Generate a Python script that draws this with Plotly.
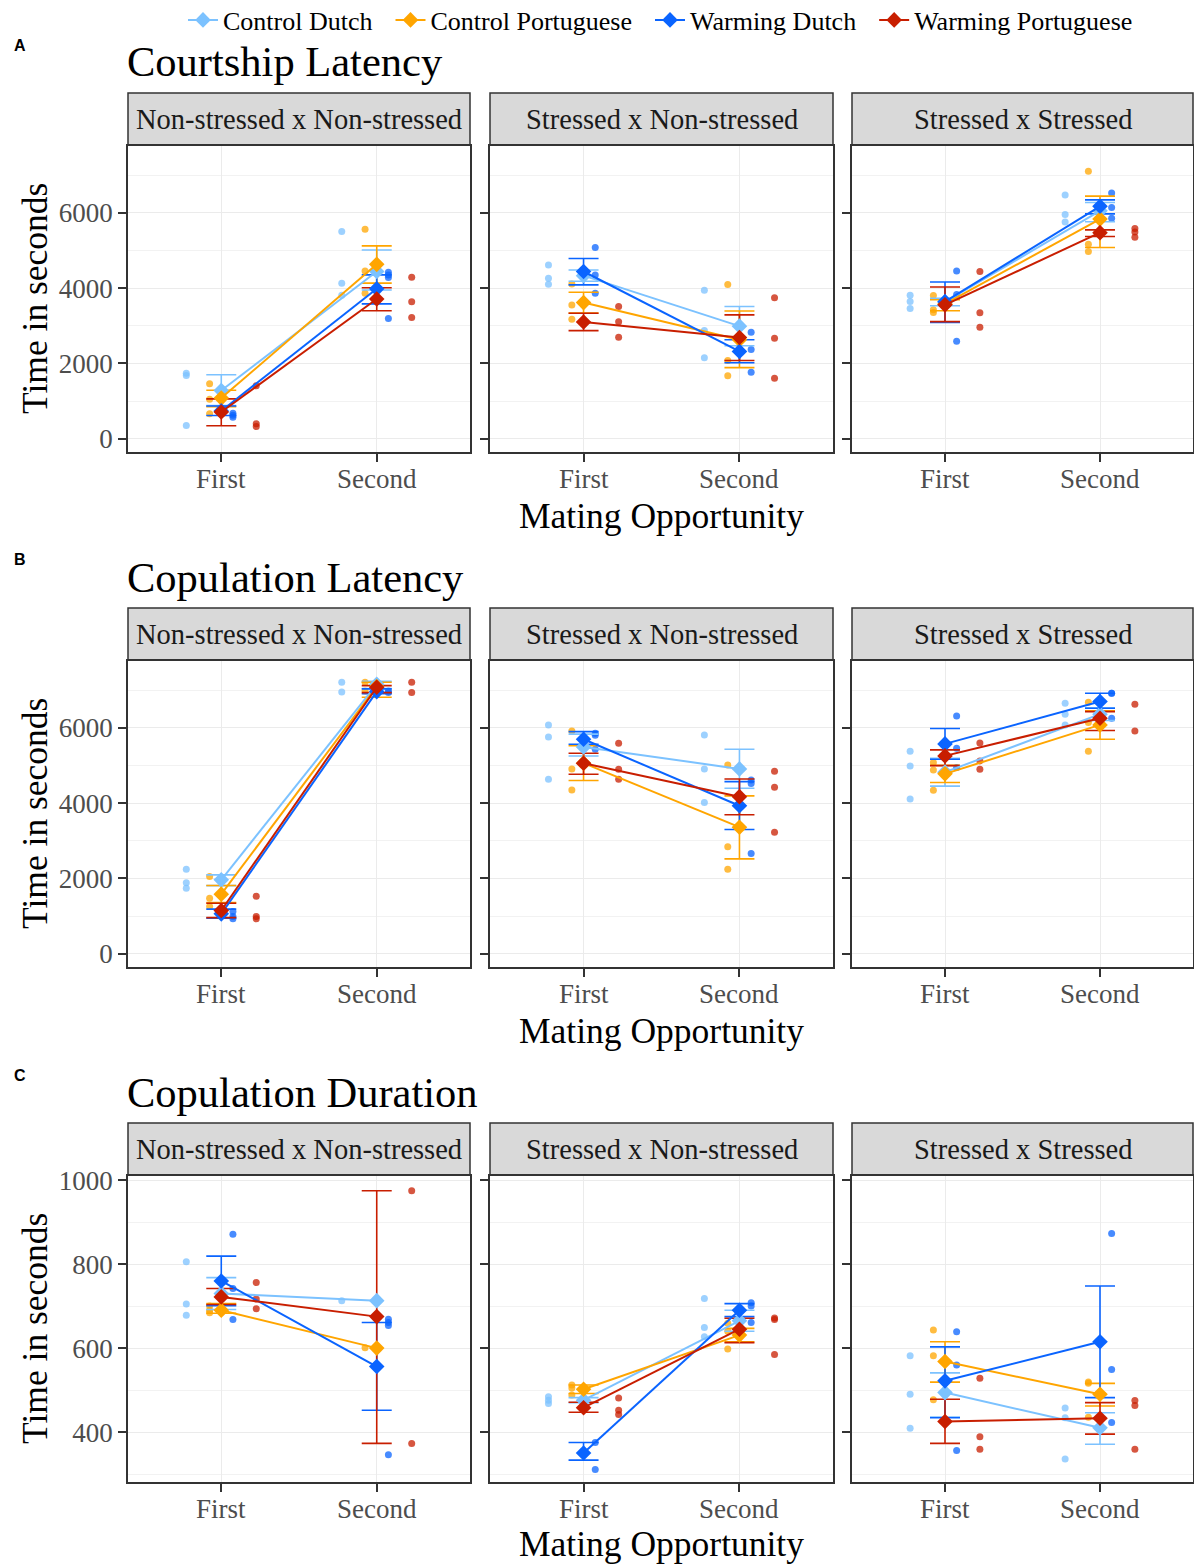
import plotly.graph_objects as go

# ---------------- data ----------------
FACETS = ["Non-stressed x Non-stressed", "Stressed x Non-stressed", "Stressed x Stressed"]
GROUPS = ["Control Dutch", "Control Portuguese", "Warming Dutch", "Warming Portuguese"]
OCCASIONS = ["First", "Second"]
COLORS = ["#7CC2FF", "#FFA500", "#0A64FF", "#C81E00"]
PANEL_TITLES = ["Courtship Latency", "Copulation Latency", "Copulation Duration"]
PANEL_LETTERS = ["A", "B", "C"]

# Courtship latency: facet -> group -> [First, Second]
court_pts = [
    [[[1743, 1680, 353], [5500, 4130, 3810]],
     [[1459, 1052, 663], [5562, 4456, 3864]],
     [[681, 628, 575], [4420, 4350, 4280, 3190]],
     [[1406, 398, 326], [4288, 3634, 3217]]],
    [[[4615, 4262, 4103], [3943, 2873, 2148]],
     [[4111, 3554, 3174], [4094, 2077, 1671]],
     [[5075, 4350, 3864], [2830, 2370, 1769]],
     [[3510, 3103, 2697], [3740, 2671, 1610]]],
    [[[3810, 3643, 3458], [6472, 5950, 5756]],
     [[3802, 3422, 3351], [7100, 5164, 4970]],
     [[4456, 3828, 2591], [6525, 6136, 5853]],
     [[4439, 3342, 2962], [5579, 5491, 5350]]],
]
court_mean = [
    [[1280, 4440], [1080, 4630], [740, 3980], [710, 3710]],
    [[4330, 2990], [3615, 2630], [4440, 2320], [3100, 2690]],
    [[3630, 6050], [3580, 5830], [3640, 6170], [3555, 5470]],
]
court_lo = [
    [[880, 3950], [850, 4130], [620, 3580], [345, 3400]],
    [[4180, 2470], [3340, 1890], [4085, 2020], [2870, 2080]],
    [[3530, 5760], [3400, 5075], [3090, 5970], [3110, 5370]],
]
court_hi = [
    [[1700, 5010], [1290, 5120], [870, 4350], [1060, 4010]],
    [[4480, 3510], [3890, 3390], [4785, 2630], [3330, 3290]],
    [[3730, 6270], [3690, 6440], [4160, 6340], [4030, 5545]],
]

# Copulation latency
coplat_pts = [
    [[[2246, 1883, 1742], [7206, 6950]],
     [[2051, 1477, 1255], [7206, 6977]],
     [[1123, 990, 928], [6976, 6932]],
     [[1530, 990, 928], [7206, 6932]]],
    [[[6074, 5756, 4633], [5809, 4907, 4014]],
     [[5915, 4907, 4350], [5013, 2838, 2246]],
     [[5850, 5800, 5430], [4615, 4518, 2661]],
     [[5588, 4898, 4633], [4845, 4421, 3227]]],
    [[[5376, 4986, 4111], [6649, 6357, 6074]],
     [[5075, 4880, 4341], [6676, 6135, 5376]],
     [[6313, 5456, 4941], [6915, 6915, 6252]],
     [[5597, 5119, 4898], [6623, 5915]]],
]
coplat_mean = [
    [[1963, 7150], [1583, 7090], [1060, 6958], [1150, 7073]],
    [[5490, 4907], [5060, 3360], [5693, 3930], [5058, 4170]],
    [[4820, 6360], [4775, 6074], [5570, 6694], [5252, 6252]],
]
coplat_lo = [
    [[1810, 7040], [1360, 6810], [946, 6900], [960, 6932]],
    [[5250, 4395], [4600, 2520], [5562, 3300], [4766, 3690]],
    [[4450, 6190], [4544, 5695], [5164, 6516], [4995, 5924]],
]
coplat_hi = [
    [[2095, 7230], [1812, 7206], [1185, 7030], [1340, 7117]],
    [[5830, 5430], [5520, 4190], [5897, 4570], [5323, 4640]],
    [[5190, 6530], [5000, 6450], [5977, 6915], [5411, 6427]],
]

# Copulation duration
copdur_pts = [
    [[[806, 705, 678], [713]],
     [[700, 690, 684], [601]],
     [[871, 742, 668], [669, 661, 654, 346]],
     [[756, 717, 694], [975, 373]]],
    [[[484, 476, 468], [718, 649, 627]],
     [[512, 505, 488], [659, 640, 598]],
     [[375, 311], [708, 700, 661]],
     [[481, 452, 442], [672, 668, 585]]],
    [[[582, 490, 409], [457, 434, 336]],
     [[643, 582, 477], [519, 516, 435]],
     [[639, 560, 356], [873, 549, 423]],
     [[528, 389, 359], [475, 463, 359]]],
]
copdur_mean = [
    [[730, 713], [690, 600], [760, 556], [722, 675]],
    [[476, 665], [502, 631], [350, 690], [458, 645]],
    [[494, 410], [568, 490], [522, 615], [425, 433]],
]
copdur_lo = [
    [[692, None], [683, None], [701, 452], [704, 373]],
    [[470, 640], [492, 615], [333, 675], [447, 613]],
    [[436, 371], [519, 462], [434, 482], [373, 395]],
]
copdur_hi = [
    [[768, None], [706, None], [819, 661], [742, 975]],
    [[482, 690], [512, 647], [375, 706], [471, 671]],
    [[541, 446], [615, 516], [603, 748], [478, 470]],
]

MEASURES = [
    (court_pts, court_mean, court_lo, court_hi),
    (coplat_pts, coplat_mean, coplat_lo, coplat_hi),
    (copdur_pts, copdur_mean, copdur_lo, copdur_hi),
]
Y_RANGES = [[-350, 7770], [-350, 7770], [281, 1010]]
Y_TICKS = [[0, 2000, 4000, 6000], [0, 2000, 4000, 6000], [400, 600, 800, 1000]]
Y_MINOR = [[1000, 3000, 5000, 7000], [1000, 3000, 5000, 7000], [300, 500, 700, 900]]
DODGE = [-0.225, -0.075, 0.075, 0.225]

# ---------------- layout geometry (px) ----------------
W, H = 1194, 1564
COLS = [(128, 470), (490, 833), (852, 1193)]
ROW_PLOT = [(146, 452), (661, 967), (1176, 1482)]
ROW_STRIP = [(93, 145), (608, 660), (1123, 1175)]
ROW_TITLE = [62, 577, 1092]
ROW_LETTER = [45, 560, 1075]
ROW_XTITLE = [516, 1031, 1544]
XTICK_GAP = 27

SERIF = "Liberation Serif"
NB = "\u00a0"


def px(x):
    return x / W


def py(y):
    return 1 - y / H


fig = go.Figure()
layout = {}
shapes = []
annotations = []

for r in range(3):
    pts_all, mean_all, lo_all, hi_all = MEASURES[r]
    for c in range(3):
        i = r * 3 + c + 1
        xa = "x" if i == 1 else f"x{i}"
        ya = "y" if i == 1 else f"y{i}"
        layout[f"xaxis{'' if i == 1 else i}"] = dict(
            domain=[px(COLS[c][0]), px(COLS[c][1])],
            anchor=ya, range=[0.4, 2.6],
            tickmode="array", tickvals=[1, 2], ticktext=OCCASIONS,
            showticklabels=False,
            showgrid=True, gridcolor="#EBEBEB", gridwidth=1.4,
            zeroline=False, showline=True, mirror=True,
            linecolor="#333333", linewidth=1.5,
            ticks="outside", ticklen=8, tickwidth=1.6, tickcolor="#333333",
            fixedrange=True,
        )
        layout[f"yaxis{'' if i == 1 else i}"] = dict(
            domain=[py(ROW_PLOT[r][1]), py(ROW_PLOT[r][0])],
            anchor=xa, range=Y_RANGES[r],
            tickmode="array", tickvals=Y_TICKS[r],
            ticktext=[str(v) for v in Y_TICKS[r]],
            showticklabels=(c == 0),
            showgrid=True, gridcolor="#EBEBEB", gridwidth=1.4,
            minor=dict(tickmode="array", tickvals=Y_MINOR[r], showgrid=True,
                       gridcolor="#F2F2F2", gridwidth=0.8, ticks=""),
            zeroline=False, showline=True, mirror=True,
            linecolor="#333333", linewidth=1.5,
            ticks="outside", ticklen=8, tickwidth=1.6, tickcolor="#333333",
            tickfont=dict(family=SERIF, size=27, color="#4D4D4D"),
            fixedrange=True,
        )
        # x tick labels placed on the axis scale
        for k, lab in enumerate(OCCASIONS):
            annotations.append(dict(xref=xa, yref="paper", x=k + 1,
                                    y=py(ROW_PLOT[r][1] + XTICK_GAP),
                                    text=lab, showarrow=False,
                                    xanchor="center", yanchor="middle",
                                    font=dict(family=SERIF, size=27, color="#4D4D4D")))
        # strip
        shapes.append(dict(type="rect", xref="paper", yref="paper",
                           x0=px(COLS[c][0]), x1=px(COLS[c][1]),
                           y0=py(ROW_STRIP[r][1]), y1=py(ROW_STRIP[r][0]),
                           fillcolor="#D9D9D9", line=dict(color="#333333", width=1.5),
                           layer="below"))
        annotations.append(dict(xref="paper", yref="paper",
                                x=px((COLS[c][0] + COLS[c][1]) / 2),
                                y=py((ROW_STRIP[r][0] + ROW_STRIP[r][1]) / 2),
                                text=FACETS[c], showarrow=False,
                                xanchor="center", yanchor="middle",
                                font=dict(family=SERIF, size=28.5, color="#1A1A1A")))

        # raw points
        for g in range(4):
            xs, ys = [], []
            for o in range(2):
                for v in pts_all[c][g][o]:
                    xs.append(o + 1 + DODGE[g])
                    ys.append(v)
            fig.add_trace(go.Scatter(
                x=xs, y=ys, mode="markers", xaxis=xa, yaxis=ya,
                marker=dict(color=COLORS[g], size=7, opacity=0.75),
                showlegend=False, hoverinfo="y"))
        # error bars
        for g in range(4):
            ex, ey, eplus, eminus = [], [], [], []
            for o in range(2):
                lo = lo_all[c][g][o]
                hi = hi_all[c][g][o]
                m = mean_all[c][g][o]
                if lo is None or hi is None:
                    continue
                ex.append(o + 1)
                ey.append(m)
                eplus.append(hi - m)
                eminus.append(m - lo)
            fig.add_trace(go.Scatter(
                x=ex, y=ey, mode="markers", xaxis=xa, yaxis=ya,
                marker=dict(color=COLORS[g], size=1, opacity=0),
                error_y=dict(type="data", symmetric=False, array=eplus,
                             arrayminus=eminus, color=COLORS[g],
                             thickness=1.6, width=15),
                showlegend=False, hoverinfo="skip"))
        # means
        for g in range(4):
            fig.add_trace(go.Scatter(
                x=[1, 2], y=mean_all[c][g], mode="lines+markers",
                xaxis=xa, yaxis=ya, name=GROUPS[g] + NB * 2,
                line=dict(color=COLORS[g], width=2),
                marker=dict(color=COLORS[g], size=12, symbol="diamond"),
                showlegend=(i == 1), legendgroup=GROUPS[g]))

    # row-level annotations
    annotations.append(dict(xref="paper", yref="paper", x=px(125), y=py(ROW_TITLE[r]),
                            text=PANEL_TITLES[r], showarrow=False,
                            xanchor="left", yanchor="middle",
                            font=dict(family=SERIF, size=42.5, color="black")))
    annotations.append(dict(xref="paper", yref="paper", x=px(12), y=py(ROW_LETTER[r]),
                            text=f"<b>{PANEL_LETTERS[r]}</b>", showarrow=False,
                            xanchor="left", yanchor="middle",
                            font=dict(family="Liberation Sans", size=16, color="black")))
    annotations.append(dict(xref="paper", yref="paper", x=px(661), y=py(ROW_XTITLE[r]),
                            text="Mating Opportunity", showarrow=False,
                            xanchor="center", yanchor="middle",
                            font=dict(family=SERIF, size=35.5, color="black")))
    annotations.append(dict(xref="paper", yref="paper", x=px(35),
                            y=py((ROW_PLOT[r][0] + ROW_PLOT[r][1]) / 2),
                            text="Time in seconds", showarrow=False, textangle=-90,
                            xanchor="center", yanchor="middle",
                            font=dict(family=SERIF, size=35.5, color="black")))

fig.update_layout(
    width=W, height=H,
    margin=dict(l=0, r=0, t=0, b=0, autoexpand=False),
    paper_bgcolor="white", plot_bgcolor="white",
    shapes=shapes, annotations=annotations,
    legend=dict(orientation="h", x=px(667), y=py(20), xanchor="center",
                yanchor="middle", font=dict(family=SERIF, size=26, color="black"),
                bgcolor="rgba(0,0,0,0)", itemclick=False, itemdoubleclick=False,
                tracegroupgap=0),
    font=dict(family=SERIF),
    **layout,
)

fig.write_html("out.html",
               config={"displayModeBar": False},
               post_script="document.body.style.margin='0';document.body.style.overflow='hidden';")
